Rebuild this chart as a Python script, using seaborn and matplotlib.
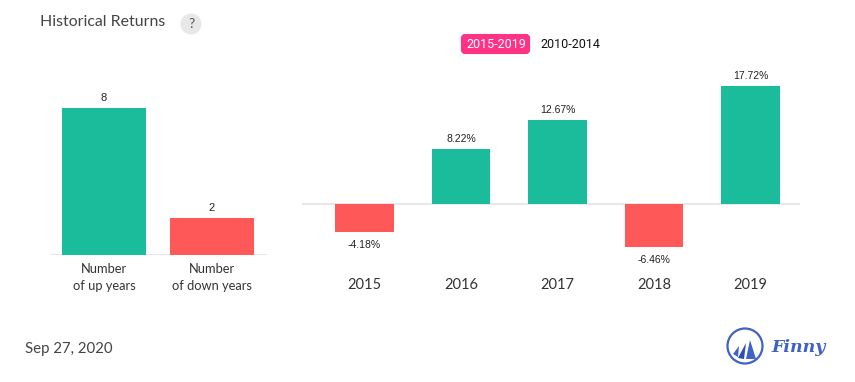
import matplotlib
matplotlib.use('Agg')
import matplotlib.pyplot as plt
from matplotlib.patches import Circle, FancyBboxPatch, Polygon
import pandas as pd
import seaborn as sns

count_labels = ['Number\nof up years', 'Number\nof down years']
count_values = [8, 2]
years = ['2015', '2016', '2017', '2018', '2019']
returns = [-4.18, 8.22, 12.67, -6.46, 17.72]
return_labels = ['-4.18%', '8.22%', '12.67%', '-6.46%', '17.72%']

green = '#1abc9c'
red = '#ff5858'
W, H = 855, 382

sns.set_theme(style='white')
plt.rcParams['font.family'] = ['Lato', 'DejaVu Sans']

fig = plt.figure(figsize=(W / 100, H / 100), dpi=100)


def px_axes(left, top, right, bottom):
    return fig.add_axes([left / W, 1 - bottom / H, (right - left) / W, (bottom - top) / H])


# left chart, baseline at y=255
ax1 = px_axes(50, 60, 267, 255)
df1 = pd.DataFrame({'label': count_labels, 'value': count_values})
sns.barplot(data=df1, x='label', y='value', hue='label', palette=[green, red], legend=False,
            width=0.778, saturation=1, linewidth=0, ax=ax1)
ax1.set_xlim(-0.5, 1.509)
ax1.set_ylim(0, 195 / 18.375)
for bar, v in zip(ax1.patches, count_values):
    ax1.annotate(str(v), (bar.get_x() + bar.get_width() / 2, v), xytext=(0, 3.5), textcoords='offset points',
                 ha='center', va='bottom', fontsize=8, family='Liberation Sans', color='#222222')

# right chart, baseline at y=204
ax2 = px_axes(302, 60, 800, 270)
df2 = pd.DataFrame({'year': years, 'ret': returns})
sns.barplot(data=df2, x='year', y='ret', hue='year', palette=[green if r > 0 else red for r in returns],
            legend=False, width=0.611, saturation=1, linewidth=0, ax=ax2)
ax2.set_xlim(-0.648, 4.513)
ax2.set_ylim(-66 / 6.66, 144 / 6.66)
for bar, v, s in zip(ax2.patches, returns, return_labels):
    off = 3.5 if v > 0 else -6
    ax2.annotate(s, (bar.get_x() + bar.get_width() / 2, v), xytext=(0, off), textcoords='offset points',
                 ha='center', va='bottom' if v > 0 else 'top', fontsize=7.5, family='Liberation Sans',
                 color='#222222')

for ax in (ax1, ax2):
    sns.despine(ax=ax, left=True, top=True, right=True, bottom=True)
    ax.set_xlabel('')
    ax.set_ylabel('')
    ax.set_yticks([])
    ax.patch.set_alpha(0)
    ax.axhline(0, color='#e8e8e8', lw=1.5, zorder=0)

ax1.tick_params(axis='x', length=0, pad=5.5, labelsize=9.3, labelcolor='#333333')
for label in ax1.get_xticklabels():
    label.set_linespacing(1.5)
# year labels sit lower than the zero line, so they are placed at the axes bottom
ax2.tick_params(axis='x', length=0, pad=6, labelsize=10.5, labelcolor='#333333')

# overlay in pixel coordinates
ov = fig.add_axes([0, 0, 1, 1])
ov.set_xlim(0, W)
ov.set_ylim(H, 0)
ov.axis('off')
ov.patch.set_alpha(0)

ov.text(40, 22.5, 'Historical Returns', fontsize=11.4, color='#444444', va='center')
ov.add_patch(Circle((191, 24), 10.5, fc='#e8e8e8', ec='none'))
ov.text(191, 24, '?', fontsize=10, color='#555555', ha='center', va='center')

ov.add_patch(FancyBboxPatch((462, 35), 67, 18, boxstyle='round,pad=0,rounding_size=3', fc='#ff3385', ec='#ff3385', lw=1.5))
ov.text(496, 45, '2015-2019', fontsize=9, color='white', ha='center', va='center', family='Roboto')
ov.text(570, 45, '2010-2014', fontsize=9, color='#111111', ha='center', va='center', family='Roboto')

ov.text(25, 349, 'Sep 27, 2020', fontsize=10.8, color='#444444', va='center')

# logo
blue = '#3f62c4'
ov.add_patch(Circle((745, 346), 17.5, fc='none', ec=blue, lw=1.6))
ov.add_patch(Polygon([(733, 354), (739, 346), (738, 357)], fc=blue, ec='none'))
ov.add_patch(Polygon([(738, 358), (746, 343), (744, 359)], fc='#2a4db5', ec='none'))
ov.add_patch(Polygon([(746, 359), (750, 340), (756, 359)], fc=blue, ec='none'))
ov.text(798.5, 348, 'Finny', fontsize=12.5, color=blue, ha='center', va='center', family='DejaVu Serif',
        style='italic', weight='bold')

fig.savefig('out.png', dpi=100)
